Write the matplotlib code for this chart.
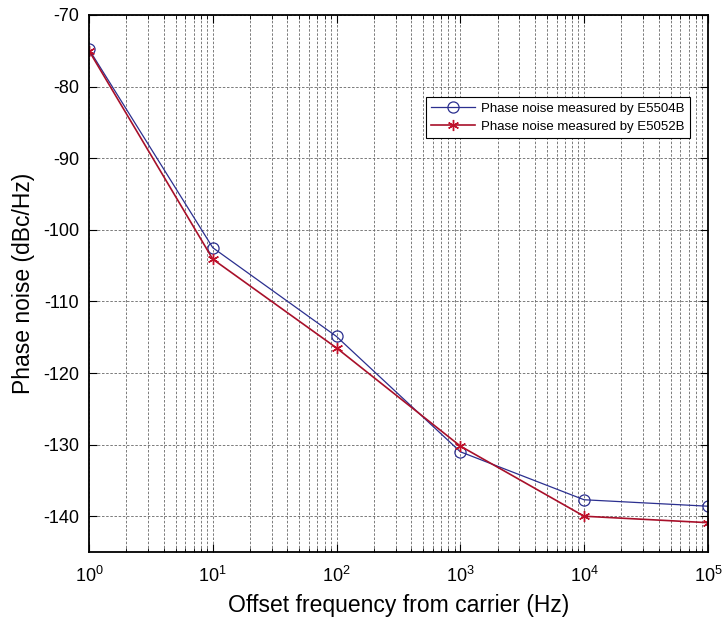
import matplotlib.pyplot as plt

plt.rcParams['font.family'] = ['Liberation Sans', 'DejaVu Sans']
plt.rcParams['axes.unicode_minus'] = False

freq = [1, 10, 100, 1000, 10000, 100000]
noise_e5504b = [-74.8, -102.5, -114.9, -131.0, -137.7, -138.6]
noise_e5052b = [-75.0, -104.1, -116.5, -130.2, -140.0, -140.9]

fig = plt.figure(figsize=(7.26, 6.17), dpi=100)
ax = fig.add_axes([0.1226, 0.1053, 0.8524, 0.8704])

ax.semilogx(freq, noise_e5504b, color='#2b2f8f', lw=0.9, marker='o', ms=8,
            mfc='none', mec='#2b2f8f', mew=0.9, label='Phase noise measured by E5504B')
ax.semilogx(freq, noise_e5052b, color='#a8102a', lw=1.2, marker=(6, 2, 0), ms=8,
            mec='#c0102a', mew=1.0, label='Phase noise measured by E5052B')

ax.set_xlim(1, 1e5)
ax.set_ylim(-145, -70)
ax.set_yticks(range(-140, -69, 10))
ax.grid(True, which='major', color='#666666', ls=(0, (3, 2)), lw=0.6)
ax.grid(True, which='minor', axis='x', color='#666666', ls=(0, (3, 2)), lw=0.6)

ax.tick_params(which='both', direction='in', top=True, right=True, labelsize=13)
ax.tick_params(which='major', length=6, width=0.8, pad=7)
ax.tick_params(axis='x', which='major', pad=10)
ax.tick_params(which='minor', length=3, width=0.6)
for s in ax.spines.values():
    s.set_linewidth(1.3)

ax.set_xlabel('Offset frequency from carrier (Hz)', fontsize=16.5, labelpad=6)
ax.set_ylabel('Phase noise (dBc/Hz)', fontsize=16.5, labelpad=6)

leg = ax.legend(loc='upper right', bbox_to_anchor=(0.971, 0.847), borderaxespad=0,
                fontsize=9.5, fancybox=False, edgecolor='black', framealpha=1,
                borderpad=0.4, handlelength=3.3, labelspacing=0.45, handletextpad=0.5)
leg.get_frame().set_linewidth(0.8)

fig.savefig('out.png', dpi=100)
